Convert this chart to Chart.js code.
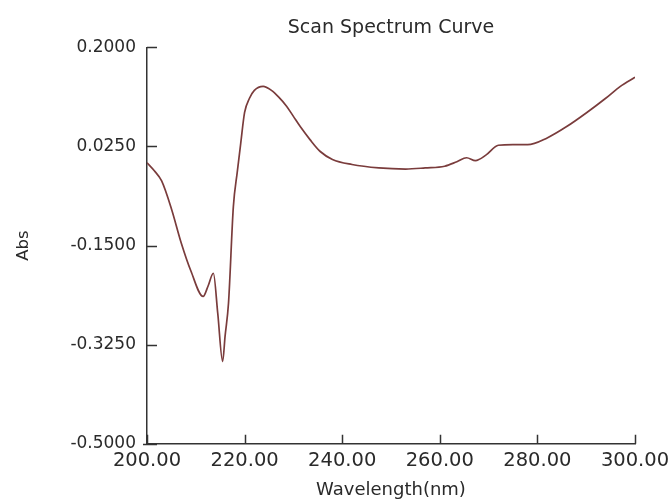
<!DOCTYPE html>
<html>
<head>
<meta charset="utf-8">
<script src="https://cdn.jsdelivr.net/npm/chart.js@4"></script>
<style>
html,body{margin:0;padding:0;background:#fff;}
#wrap{width:671px;height:502px;}
</style>
</head>
<body>
<div id="wrap"><canvas id="c" width="671" height="502"></canvas></div>
<script>
const wavelengths = [200, 201.5, 203, 205, 207, 209, 211.5, 212.5, 213.6, 214.5, 215.5, 216, 216.7, 217.7, 218.5, 219.2, 220, 221, 222, 223.8, 225.5, 227, 228.6, 230, 231.4, 233.4, 235.5, 238, 242, 247.5, 253, 257, 261, 263.5, 265.5, 267.3, 269.5, 272, 275, 278, 282, 286, 290, 294, 297, 300];
const absorbance = [-0.004, -0.018, -0.036, -0.085, -0.145, -0.195, -0.240, -0.222, -0.199, -0.270, -0.355, -0.310, -0.252, -0.081, -0.020, 0.030, 0.085, 0.110, 0.124, 0.131, 0.124, 0.112, 0.096, 0.078, 0.060, 0.037, 0.016, 0.002, -0.007, -0.013, -0.015, -0.013, -0.010, -0.002, 0.005, 0.000, 0.010, 0.027, 0.028, 0.028, 0.040, 0.060, 0.084, 0.110, 0.131, 0.147];
const xTicks = [200, 220, 240, 260, 280, 300];
const yTicks = [-0.5, -0.325, -0.15, 0.025, 0.2];

const points = wavelengths.map((w, i) => ({x: w, y: absorbance[i]}));
const FONT = "'DejaVu Sans', Verdana, sans-serif";
const TXT = '#2a2a2a';

const innerTicks = {
  id: 'innerTicks',
  afterDraw(chart) {
    const ctx = chart.ctx;
    const xs = chart.scales.x, ys = chart.scales.y;
    const a = chart.chartArea;
    ctx.save();
    ctx.strokeStyle = '#333';
    ctx.lineWidth = 1.5;
    ctx.beginPath();
    xTicks.forEach(v => {
      const px = Math.round(xs.getPixelForValue(v)) + 0.5;
      ctx.moveTo(px, a.bottom);
      ctx.lineTo(px, a.bottom - 9);
    });
    yTicks.forEach(v => {
      const py = Math.round(ys.getPixelForValue(v)) + 0.5;
      ctx.moveTo(a.left, py);
      ctx.lineTo(a.left + 10, py);
    });
    ctx.moveTo(a.left - 4, Math.round(a.bottom) + 0.5);
    ctx.lineTo(a.left, Math.round(a.bottom) + 0.5);
    ctx.stroke();
    ctx.restore();
  }
};

new Chart(document.getElementById('c'), {
  type: 'line',
  data: {
    datasets: [{
      data: points,
      borderColor: '#7a3c3c',
      borderWidth: 1.7,
      pointRadius: 0,
      fill: false,
      cubicInterpolationMode: 'monotone'
    }]
  },
  options: {
    responsive: false,
    animation: false,
    layout: {padding: {left: 0, right: 36, top: 1, bottom: 0}},
    plugins: {
      legend: {display: false},
      tooltip: {enabled: false},
      title: {
        display: true,
        fullSize: false,
        text: 'Scan Spectrum Curve',
        color: TXT,
        font: {family: FONT, size: 19, weight: 'normal'},
        padding: {top: 16, bottom: 7.5}
      }
    },
    scales: {
      x: {
        type: 'linear',
        min: 200, max: 300,
        afterBuildTicks: s => { s.ticks = xTicks.map(v => ({value: v})); },
        afterFit: s => { s.height = 58.3; s.paddingLeft = 0; s.paddingRight = 0; },
        grid: {display: false, drawTicks: false},
        border: {display: true, color: '#333', width: 1.5},
        ticks: {
          color: TXT, font: {family: FONT, size: 19.5}, padding: 6,
          maxRotation: 0, autoSkip: false,
          callback: v => Number(v).toFixed(2)
        },
        title: {display: true, text: 'Wavelength(nm)', color: TXT,
          font: {family: FONT, size: 18}, padding: {top: 0, bottom: 1}}
      },
      y: {
        type: 'linear',
        min: -0.5, max: 0.2,
        afterBuildTicks: s => { s.ticks = yTicks.map(v => ({value: v})); },
        afterFit: s => { s.width = 147; s.paddingTop = 0; s.paddingBottom = 0; },
        grid: {display: false, drawTicks: false},
        border: {display: true, color: '#333', width: 1.5},
        ticks: {
          color: TXT, font: {family: FONT, size: 17}, padding: 11,
          autoSkip: false,
          callback: v => Number(v).toFixed(4)
        },
        title: {display: true, text: 'Abs', color: TXT,
          font: {family: FONT, size: 16.5}, padding: {top: 14, bottom: 0}}
      }
    }
  },
  plugins: [innerTicks]
});
</script>
</body>
</html>
